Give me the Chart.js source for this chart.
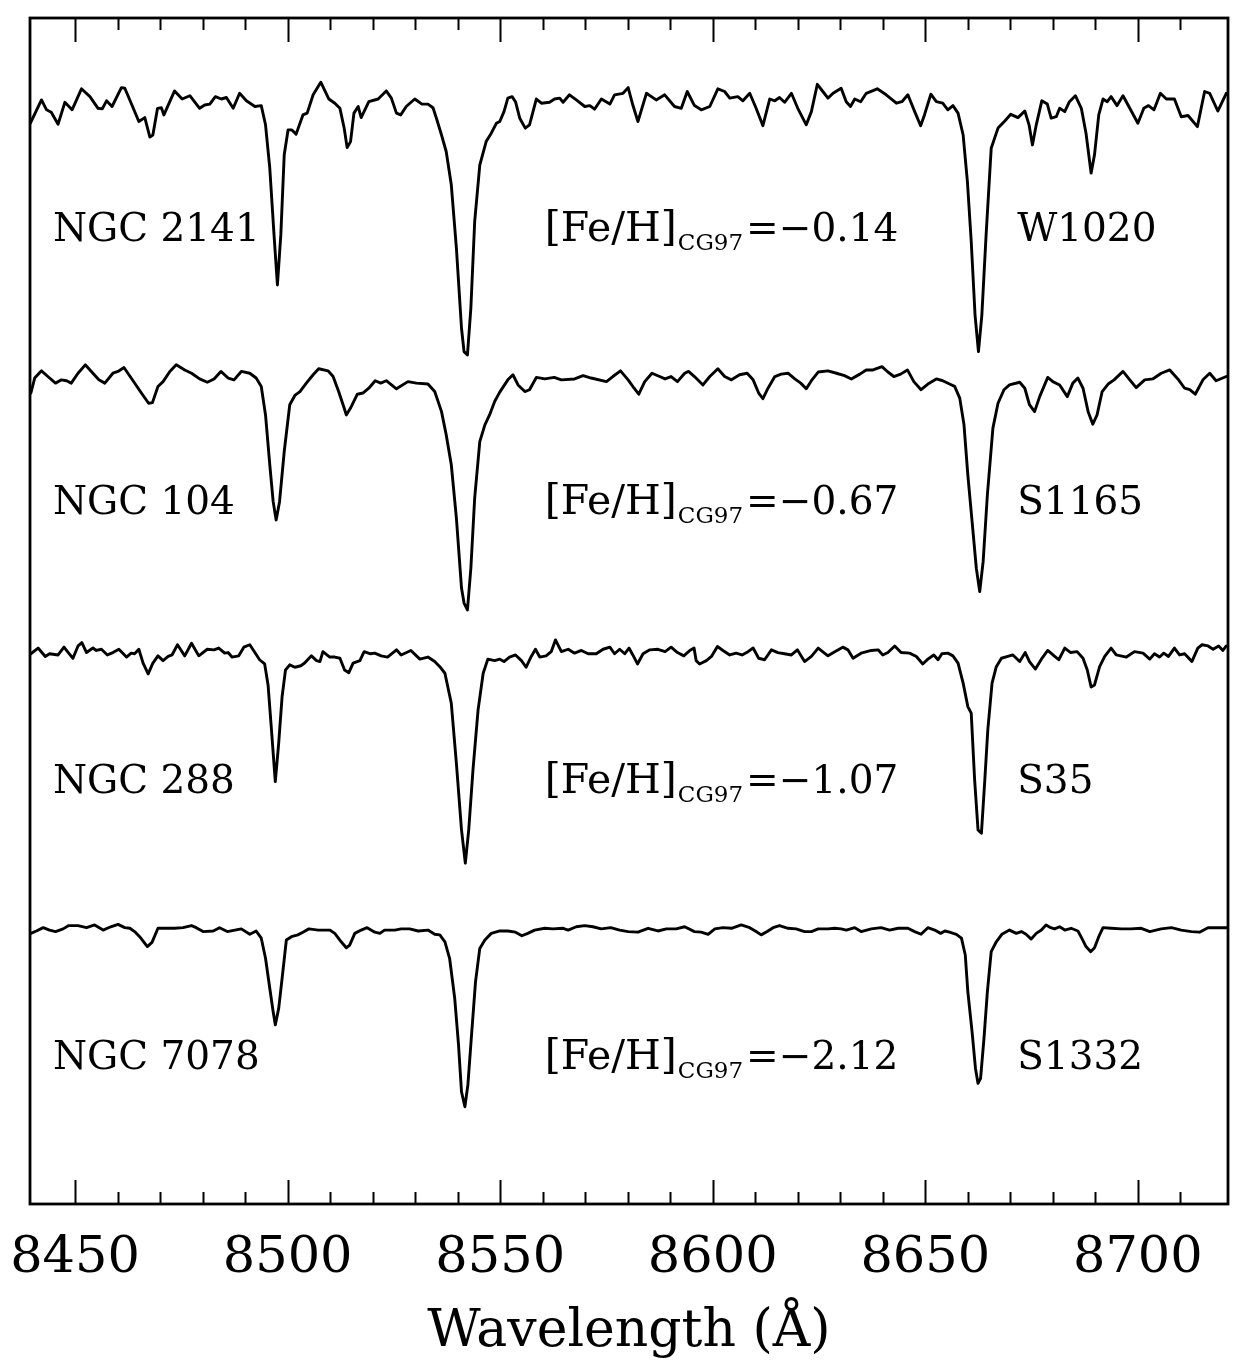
<!DOCTYPE html>
<html>
<head>
<meta charset="utf-8">
<title>CaT spectra</title>
<script src="https://cdn.jsdelivr.net/npm/chart.js@4.4.1/dist/chart.umd.min.js"></script>
<style>
  html, body { margin: 0; padding: 0; background: #fff; }
  #wrap { width: 1233px; height: 1360px; }
</style>
</head>
<body>
<div id="wrap"><canvas id="spectraChart" width="1233" height="1360"></canvas></div>
<script>
// Ejes
const xMin = 8439.4;
const xMax = 8721.2;
const tickValues = [8450, 8500, 8550, 8600, 8650, 8700];
const minorTickValues = [8450, 8460, 8470, 8480, 8490, 8500, 8510, 8520, 8530, 8540, 8550,
    8560, 8570, 8580, 8590, 8600, 8610, 8620, 8630, 8640, 8650, 8660, 8670, 8680, 8690, 8700, 8710];

// Etiquetas de cada espectro
const clusters = ['NGC 2141', 'NGC 104', 'NGC 288', 'NGC 7078'];
const stars = ['W1020', 'S1165', 'S35', 'S1332'];
const fehValues = ['\u22120.14', '\u22120.67', '\u22121.07', '\u22122.12'];
const offsets = [2.68, 1.737, 0.847, -0.08];
const labelLevels = [3.21, 2.30, 1.37, 0.45];

// NGC 2141 / W1020
const wl1 = [8439.5, 8442.1, 8443.3, 8444.4, 8446.0, 8447.6, 8449.3, 8451.5, 8453.5, 8455.4,
    8456.4, 8457.4, 8458.7, 8460.9, 8461.7, 8463.2, 8465.0, 8466.4, 8467.6, 8468.3,
    8469.4, 8470.3, 8470.9, 8473.4, 8475.2, 8477.0, 8479.3, 8480.5, 8481.7, 8483.0,
    8484.4, 8485.6, 8487.2, 8488.7, 8490.3, 8492.3, 8493.8, 8494.8, 8495.8, 8496.8,
    8497.6, 8498.4, 8499.2, 8500.1, 8501.0, 8502.0, 8503.6, 8504.6, 8506.0, 8507.8,
    8509.7, 8511.1, 8512.3, 8513.3, 8514.0, 8514.8, 8515.6, 8516.6, 8517.3, 8519.1,
    8521.3, 8523.2, 8524.4, 8525.6, 8526.6, 8527.9, 8529.9, 8531.6, 8533.0, 8534.2,
    8535.0, 8536.2, 8537.3, 8538.5, 8539.7, 8540.9, 8541.5, 8542.3, 8543.1, 8544.0,
    8545.2, 8546.7, 8547.9, 8549.1, 8549.9, 8550.9, 8551.8, 8552.8, 8553.6, 8554.6,
    8555.9, 8556.9, 8558.5, 8559.7, 8561.6, 8562.8, 8564.0, 8564.8, 8566.3, 8567.9,
    8569.9, 8571.1, 8572.2, 8573.8, 8575.8, 8576.9, 8578.9, 8580.1, 8581.2, 8582.4,
    8584.4, 8586.7, 8588.7, 8591.0, 8592.6, 8594.0, 8595.7, 8597.3, 8599.3, 8601.2,
    8602.8, 8604.0, 8605.9, 8607.1, 8608.7, 8610.2, 8611.8, 8613.4, 8614.6, 8615.7,
    8616.9, 8618.5, 8620.0, 8622.0, 8623.2, 8624.6, 8625.9, 8627.1, 8628.3, 8630.2,
    8631.4, 8632.4, 8633.4, 8634.8, 8636.1, 8638.7, 8640.8, 8643.2, 8644.5, 8645.9,
    8647.5, 8648.9, 8649.8, 8651.3, 8652.6, 8654.1, 8655.3, 8656.5, 8657.7, 8658.9,
    8659.9, 8660.8, 8661.7, 8662.5, 8663.3, 8664.3, 8665.5, 8667.1, 8668.7, 8670.1,
    8671.8, 8673.4, 8674.4, 8675.2, 8676.1, 8677.4, 8678.7, 8679.6, 8680.8, 8681.6,
    8682.8, 8683.9, 8685.3, 8686.7, 8687.8, 8689.0, 8689.8, 8690.8, 8691.8, 8692.8,
    8693.7, 8695.1, 8696.5, 8698.1, 8700.0, 8701.4, 8702.5, 8703.8, 8705.3, 8706.7,
    8708.6, 8710.2, 8711.8, 8714.0, 8715.7, 8716.9, 8718.8, 8720.8];
const flux1 = [0.923, 1.0, 0.967, 0.959, 0.919, 0.992, 0.967, 1.037, 1.011, 0.972,
    0.97, 0.997, 0.978, 1.041, 1.039, 0.989, 0.928, 0.941, 0.876, 0.883,
    0.972, 0.974, 0.95, 1.03, 1.003, 1.014, 0.972, 0.983, 0.986, 1.011,
    1.003, 1.008, 0.972, 1.022, 0.997, 0.978, 0.981, 0.917, 0.773, 0.55,
    0.383, 0.55, 0.817, 0.90, 0.90, 0.886, 0.95, 0.956, 1.017, 1.059,
    1.003, 0.989, 0.972, 0.906, 0.841, 0.861, 0.956, 0.978, 0.941, 0.994,
    1.003, 1.03, 1.006, 0.956, 0.95, 0.978, 1.003, 0.986, 0.986, 0.974,
    0.939, 0.883, 0.828, 0.717, 0.506, 0.239, 0.161, 0.15, 0.306, 0.594,
    0.783, 0.861, 0.889, 0.922, 0.928, 0.961, 1.006, 1.011, 0.994, 0.939,
    0.906, 0.917, 1.003, 0.989, 0.992, 1.003, 1.006, 0.992, 1.017, 1.0,
    0.978, 0.981, 0.969, 1.003, 0.986, 1.017, 1.022, 1.041, 0.983, 0.928,
    1.022, 1.0, 1.017, 0.978, 0.972, 1.028, 0.981, 0.967, 0.978, 1.037,
    1.028, 1.006, 1.011, 0.997, 1.022, 0.972, 0.914, 1.003, 0.997, 1.008,
    0.992, 1.022, 0.972, 0.917, 0.961, 1.052, 1.028, 1.006, 1.022, 1.039,
    0.994, 0.978, 1.003, 0.994, 1.022, 1.037, 1.017, 0.989, 0.994, 1.017,
    0.961, 0.914, 0.95, 1.019, 0.994, 0.989, 0.967, 0.981, 0.956, 0.883,
    0.728, 0.528, 0.283, 0.161, 0.283, 0.55, 0.839, 0.906, 0.93, 0.952,
    0.941, 0.963, 0.917, 0.85, 0.917, 0.997, 0.986, 0.939, 0.944, 0.972,
    0.961, 0.994, 1.014, 0.972, 0.889, 0.756, 0.817, 0.95, 1.003, 0.994,
    1.011, 0.981, 1.014, 0.972, 0.922, 0.972, 0.981, 0.967, 1.022, 1.003,
    1.003, 0.944, 0.948, 0.911, 1.028, 1.022, 0.963, 1.022];

// NGC 104 / S1165
const wl2 = [8439.6, 8440.5, 8442.1, 8443.6, 8445.4, 8446.8, 8448.0, 8449.1, 8450.7, 8452.4,
    8454.2, 8455.6, 8457.0, 8458.9, 8460.1, 8461.5, 8463.2, 8465.6, 8467.3, 8468.2,
    8469.5, 8470.7, 8472.3, 8473.8, 8475.8, 8477.4, 8479.3, 8481.1, 8482.7, 8484.3,
    8486.0, 8487.4, 8489.1, 8491.1, 8492.6, 8493.8, 8494.8, 8495.8, 8496.6, 8497.3,
    8498.1, 8499.2, 8500.5, 8501.7, 8502.9, 8504.4, 8506.0, 8507.3, 8509.5, 8510.7,
    8512.0, 8513.3, 8513.8, 8514.8, 8516.4, 8517.7, 8519.1, 8520.6, 8521.9, 8523.2,
    8525.6, 8528.3, 8530.3, 8533.0, 8534.6, 8536.2, 8537.3, 8538.5, 8539.7, 8540.9,
    8541.5, 8542.3, 8543.1, 8544.0, 8545.2, 8546.4, 8547.5, 8548.7, 8549.9, 8551.8,
    8553.0, 8554.2, 8555.8, 8556.9, 8558.5, 8560.5, 8562.7, 8564.4, 8567.5, 8569.5,
    8571.4, 8575.0, 8576.5, 8578.3, 8580.1, 8581.5, 8582.6, 8584.0, 8585.7, 8587.5,
    8588.8, 8590.2, 8591.7, 8593.4, 8594.3, 8595.7, 8597.7, 8599.3, 8601.2, 8602.8,
    8604.4, 8606.3, 8608.1, 8609.5, 8610.8, 8611.8, 8613.0, 8614.6, 8616.1, 8617.7,
    8619.3, 8620.7, 8622.0, 8623.2, 8624.8, 8627.1, 8629.1, 8631.0, 8632.6, 8634.6,
    8636.1, 8637.7, 8639.8, 8641.2, 8642.6, 8644.2, 8645.8, 8647.3, 8649.0, 8650.6,
    8652.6, 8654.1, 8655.7, 8656.9, 8658.1, 8659.1, 8660.0, 8661.0, 8662.0, 8662.8,
    8663.6, 8664.6, 8665.9, 8667.1, 8668.5, 8669.8, 8672.2, 8673.4, 8674.5, 8675.7,
    8676.9, 8678.8, 8680.0, 8681.6, 8683.4, 8684.7, 8685.9, 8687.1, 8688.3, 8689.4,
    8690.4, 8691.6, 8693.0, 8694.4, 8696.5, 8698.1, 8699.6, 8701.6, 8703.5, 8705.5,
    8707.5, 8709.4, 8711.0, 8712.2, 8713.5, 8715.3, 8716.9, 8718.4, 8720.8];
const flux2 = [0.966, 1.016, 1.04, 1.021, 0.999, 1.01, 1.007, 0.999, 1.032, 1.06,
    1.032, 1.01, 0.999, 1.032, 1.038, 1.051, 1.016, 0.966, 0.932, 0.934,
    0.988, 1.004, 1.038, 1.06, 1.043, 1.032, 1.013, 1.002, 1.013, 1.038,
    1.016, 1.01, 1.038, 1.032, 1.016, 0.988, 0.893, 0.727, 0.604, 0.543,
    0.604, 0.771, 0.927, 0.958, 0.971, 0.999, 1.027, 1.047, 1.04, 1.021,
    0.971, 0.916, 0.893, 0.916, 0.962, 0.966, 0.982, 1.007, 0.999, 1.007,
    0.98, 1.004, 0.999, 0.996, 0.971, 0.904, 0.827, 0.727, 0.549, 0.316,
    0.266, 0.243, 0.382, 0.616, 0.804, 0.86, 0.893, 0.938, 0.969, 1.01,
    1.027, 0.993, 0.971, 0.977, 1.018, 1.013, 1.018, 1.01, 1.013, 1.024,
    1.016, 1.004, 1.021, 1.04, 1.01, 0.982, 0.962, 1.004, 1.032, 1.021,
    1.013, 1.021, 1.004, 1.032, 1.038, 1.021, 0.993, 1.021, 1.047, 1.021,
    1.01, 1.027, 1.032, 1.01, 0.966, 0.947, 0.982, 1.021, 1.029, 1.032,
    1.013, 0.999, 0.98, 1.007, 1.036, 1.04, 1.032, 1.024, 1.013, 1.029,
    1.043, 1.043, 1.054, 1.036, 1.021, 1.029, 1.043, 1.004, 0.977, 0.996,
    1.013, 1.007, 0.996, 0.988, 0.949, 0.86, 0.693, 0.538, 0.382, 0.304,
    0.404, 0.627, 0.849, 0.932, 0.977, 0.993, 1.002, 0.982, 0.927, 0.904,
    0.954, 1.018, 1.004, 0.993, 0.954, 0.999, 1.016, 0.982, 0.904, 0.862,
    0.893, 0.971, 0.996, 1.01, 1.038, 1.01, 0.984, 1.01, 1.013, 1.032,
    1.043, 1.013, 0.982, 0.977, 0.962, 1.01, 1.032, 1.007, 1.021];

// NGC 288 / S35
const wl3 = [8439.6, 8441.3, 8443.0, 8444.0, 8446.0, 8447.4, 8448.4, 8449.5, 8450.7, 8451.6,
    8452.7, 8454.2, 8455.0, 8456.2, 8457.6, 8458.9, 8460.3, 8462.1, 8463.2, 8464.0,
    8465.0, 8466.0, 8467.2, 8468.3, 8469.5, 8470.7, 8471.9, 8472.8, 8474.1, 8475.8,
    8477.4, 8479.1, 8481.1, 8482.7, 8483.8, 8485.2, 8486.0, 8486.9, 8488.5, 8489.7,
    8491.1, 8492.3, 8493.4, 8494.6, 8495.4, 8496.2, 8497.1, 8497.9, 8498.7, 8499.5,
    8500.5, 8501.7, 8503.1, 8504.0, 8505.6, 8506.8, 8507.6, 8508.3, 8509.9, 8511.1,
    8512.3, 8513.4, 8514.4, 8515.4, 8517.0, 8518.0, 8519.5, 8520.5, 8522.0, 8523.5,
    8525.6, 8526.7, 8529.0, 8531.1, 8533.0, 8534.6, 8535.8, 8537.0, 8538.5, 8539.7,
    8540.9, 8541.8, 8542.6, 8543.6, 8544.8, 8546.0, 8547.1, 8548.7, 8549.9, 8550.9,
    8552.2, 8553.6, 8555.0, 8556.1, 8557.3, 8558.3, 8559.3, 8560.8, 8562.0, 8563.0,
    8564.4, 8566.0, 8567.5, 8569.1, 8570.7, 8572.6, 8574.2, 8575.8, 8576.9, 8578.1,
    8579.3, 8580.3, 8581.2, 8582.3, 8583.6, 8585.2, 8587.1, 8588.8, 8590.2, 8591.7,
    8593.2, 8594.6, 8595.6, 8596.1, 8596.9, 8598.5, 8599.7, 8601.1, 8602.4, 8604.0,
    8605.5, 8606.9, 8608.3, 8609.5, 8610.8, 8612.2, 8613.8, 8615.3, 8616.9, 8618.5,
    8619.9, 8621.6, 8623.2, 8624.8, 8627.1, 8628.7, 8630.6, 8631.8, 8633.0, 8634.9,
    8637.3, 8638.9, 8640.0, 8641.2, 8642.8, 8644.3, 8646.3, 8647.9, 8649.4, 8650.6,
    8652.0, 8653.0, 8653.9, 8655.3, 8656.5, 8657.7, 8658.9, 8660.0, 8660.8, 8661.6,
    8662.4, 8663.2, 8664.0, 8664.7, 8665.7, 8666.7, 8667.9, 8669.4, 8670.6, 8672.2,
    8673.5, 8674.5, 8675.9, 8677.3, 8678.8, 8680.3, 8681.4, 8682.8, 8684.2, 8685.7,
    8687.1, 8688.1, 8689.0, 8689.8, 8691.0, 8692.2, 8693.7, 8694.9, 8697.3, 8699.2,
    8701.2, 8702.8, 8703.9, 8705.1, 8706.1, 8707.2, 8708.6, 8709.8, 8711.0, 8712.7,
    8714.1, 8715.1, 8716.5, 8717.7, 8719.0, 8720.0, 8720.8];
const flux3 = [0.987, 1.006, 0.978, 0.987, 0.983, 1.009, 0.991, 0.972, 1.013, 1.024,
    0.991, 1.006, 0.998, 1.002, 0.983, 0.991, 1.002, 0.976, 0.989, 0.987,
    1.002, 0.956, 0.92, 0.956, 0.98, 0.964, 0.978, 0.983, 1.017, 0.98,
    1.022, 0.98, 1.002, 1.0, 1.006, 0.989, 0.991, 0.976, 0.98, 1.009,
    1.017, 0.991, 0.967, 0.953, 0.883, 0.733, 0.561, 0.689, 0.844, 0.933,
    0.95, 0.942, 0.947, 0.956, 0.98, 0.964, 0.961, 0.994, 0.976, 0.976,
    0.972, 0.933, 0.924, 0.956, 0.964, 0.994, 0.987, 0.989, 0.98, 0.976,
    1.0, 0.983, 0.998, 0.969, 0.976, 0.961, 0.944, 0.922, 0.822, 0.622,
    0.40, 0.289, 0.40, 0.60, 0.80, 0.922, 0.969, 0.964, 0.969, 0.961,
    0.976, 0.983, 0.964, 0.942, 0.978, 1.002, 0.976, 0.98, 0.994, 1.033,
    0.994, 1.002, 0.989, 0.998, 0.987, 0.987, 1.002, 1.009, 0.987, 1.002,
    0.987, 1.006, 0.983, 0.953, 0.987, 1.0, 1.002, 0.994, 1.009, 0.991,
    0.98, 0.998, 1.006, 0.964, 0.953, 0.964, 0.978, 1.011, 0.998, 0.983,
    0.989, 0.983, 0.994, 1.006, 0.972, 0.967, 1.0, 0.991, 0.987, 0.983,
    1.0, 0.961, 0.978, 1.006, 0.98, 0.994, 1.009, 1.0, 0.972, 0.989,
    0.998, 1.0, 0.983, 0.991, 1.013, 0.991, 0.989, 0.978, 0.953, 0.969,
    0.983, 0.967, 0.987, 0.989, 0.98, 0.956, 0.889, 0.811, 0.789, 0.567,
    0.40, 0.389, 0.567, 0.733, 0.889, 0.944, 0.972, 0.978, 0.983, 0.961,
    0.991, 0.961, 0.936, 0.969, 0.998, 0.98, 0.967, 1.006, 0.991, 0.994,
    0.972, 0.933, 0.876, 0.883, 0.944, 0.978, 1.006, 0.983, 0.976, 0.994,
    0.989, 0.969, 0.987, 0.976, 0.989, 0.978, 1.006, 0.983, 0.987, 0.961,
    1.006, 1.017, 1.013, 1.002, 1.013, 0.998, 1.013];

// NGC 7078 / S1332
const wl4 = [8439.6, 8440.9, 8442.5, 8444.0, 8445.4, 8447.2, 8448.5, 8450.7, 8452.7, 8454.6,
    8456.6, 8458.4, 8460.1, 8461.7, 8462.9, 8464.0, 8465.2, 8467.0, 8468.1, 8469.5,
    8471.9, 8473.4, 8475.4, 8477.4, 8478.5, 8480.1, 8482.5, 8484.0, 8485.8, 8487.6,
    8489.1, 8491.1, 8492.6, 8493.8, 8494.8, 8495.8, 8496.6, 8497.1, 8497.9, 8498.7,
    8499.7, 8500.9, 8502.4, 8503.6, 8505.0, 8507.2, 8509.9, 8511.1, 8512.6, 8513.8,
    8514.6, 8515.8, 8517.3, 8518.7, 8520.5, 8521.7, 8522.8, 8525.2, 8526.7, 8528.7,
    8530.7, 8533.0, 8534.6, 8535.8, 8537.0, 8538.1, 8539.3, 8540.2, 8540.9, 8541.7,
    8542.4, 8543.2, 8544.2, 8545.2, 8546.4, 8547.9, 8549.9, 8551.8, 8553.6, 8555.1,
    8556.5, 8558.1, 8560.5, 8562.4, 8564.8, 8566.0, 8567.9, 8569.9, 8571.8, 8573.8,
    8576.0, 8578.1, 8580.1, 8582.4, 8584.8, 8587.1, 8589.1, 8591.4, 8593.4, 8595.7,
    8597.3, 8598.9, 8600.5, 8602.4, 8604.4, 8606.7, 8608.7, 8610.2, 8611.4, 8612.8,
    8614.2, 8615.7, 8617.7, 8619.6, 8621.6, 8623.2, 8624.8, 8627.1, 8628.7, 8630.2,
    8631.4, 8633.4, 8634.9, 8637.3, 8639.6, 8641.6, 8643.6, 8645.9, 8647.5, 8649.0,
    8650.6, 8652.2, 8653.6, 8654.6, 8655.7, 8657.3, 8658.5, 8659.4, 8660.0, 8661.0,
    8661.8, 8662.4, 8663.0, 8663.8, 8664.6, 8665.5, 8666.7, 8668.0, 8669.8, 8671.4,
    8672.6, 8673.7, 8674.9, 8676.1, 8677.3, 8678.4, 8679.5, 8680.4, 8681.6, 8682.8,
    8684.3, 8685.9, 8686.8, 8687.8, 8688.9, 8689.8, 8690.8, 8691.8, 8693.7, 8696.1,
    8698.4, 8700.8, 8702.8, 8705.5, 8707.9, 8710.2, 8712.6, 8714.5, 8716.5, 8718.8, 8720.8];
const flux4 = [0.982, 0.99, 1.001, 0.993, 0.988, 0.997, 1.008, 1.008, 1.001, 1.01,
    0.993, 1.004, 1.012, 1.001, 0.999, 0.988, 0.971, 0.938, 0.952, 0.999,
    0.999, 0.999, 1.001, 1.008, 1.001, 0.988, 0.99, 1.001, 0.988, 0.993,
    0.997, 0.979, 0.99, 0.966, 0.899, 0.799, 0.721, 0.677, 0.732, 0.832,
    0.96, 0.971, 0.977, 0.986, 0.997, 0.993, 0.993, 0.982, 0.954, 0.934,
    0.943, 0.982, 0.993, 1.001, 0.986, 0.982, 0.993, 0.993, 0.997, 0.997,
    0.99, 0.993, 0.979, 0.977, 0.954, 0.899, 0.766, 0.61, 0.454, 0.404,
    0.477, 0.632, 0.821, 0.932, 0.96, 0.982, 0.99, 0.99, 0.986, 0.974,
    0.982, 0.993, 0.999, 0.997, 0.999, 0.993, 1.004, 1.008, 1.004, 0.997,
    1.001, 0.993, 0.988, 0.986, 0.999, 0.99, 0.997, 0.997, 1.004, 0.988,
    0.986, 0.979, 0.997, 1.001, 0.999, 1.01, 1.001, 0.988, 0.977, 0.988,
    1.001, 1.008, 0.999, 0.997, 0.988, 0.988, 0.997, 0.997, 0.999, 0.997,
    0.993, 1.001, 0.988, 0.997, 1.001, 0.993, 0.999, 0.999, 0.988, 0.979,
    1.001, 0.993, 0.982, 0.99, 0.986, 0.979, 0.966, 0.91, 0.788, 0.654,
    0.532, 0.482, 0.499, 0.632, 0.788, 0.921, 0.954, 0.979, 0.993, 0.982,
    0.988, 0.979, 0.963, 0.982, 0.993, 1.01, 1.001, 0.997, 1.004, 0.993,
    0.999, 0.99, 0.966, 0.938, 0.921, 0.934, 0.971, 1.001, 0.999, 0.997,
    0.997, 0.999, 0.988, 0.997, 1.001, 0.993, 0.988, 0.986, 1.001, 1.001, 1.001];

const wavelengths = [wl1, wl2, wl3, wl4];
const fluxes = [flux1, flux2, flux3, flux4];

const fuente = '"DejaVu Serif", "Liberation Serif", serif';

// Construir los datasets con el desplazamiento vertical de cada espectro
function crearDatasets() {
    return fluxes.map((f, i) => {
        const wl = wavelengths[i];
        const n = Math.min(wl.length, f.length);
        const puntos = [];
        for (let k = 0; k < n; k++) {
            puntos.push({ x: wl[k], y: f[k] + offsets[i] });
        }
        return {
            label: clusters[i],
            data: puntos,
            borderColor: '#000',
            borderWidth: 2.9,
            borderJoinStyle: 'round',
            borderCapStyle: 'round',
            pointRadius: 0,
            tension: 0,
            fill: false
        };
    });
}

// Marco y marcas de graduacion arriba y abajo
const marcoPlugin = {
    id: 'marco',
    afterDraw(chart) {
        const { ctx, chartArea: a, scales } = chart;
        const x = scales.x;
        ctx.save();
        ctx.strokeStyle = '#000';
        ctx.lineWidth = 2;
        ctx.beginPath();
        minorTickValues.forEach(v => {
            const px = Math.round(x.getPixelForValue(v)) + 0.5;
            const len = tickValues.includes(v) ? 24 : 12;
            ctx.moveTo(px, a.top);
            ctx.lineTo(px, a.top + len);
            ctx.moveTo(px, a.bottom);
            ctx.lineTo(px, a.bottom - len);
        });
        ctx.stroke();
        ctx.lineWidth = 2.8;
        ctx.strokeRect(a.left, a.top, a.right - a.left, a.bottom - a.top);
        ctx.restore();
    }
};

// Etiquetas de cumulo, metalicidad y estrella
const etiquetasPlugin = {
    id: 'etiquetas',
    afterDatasetsDraw(chart) {
        const { ctx, scales } = chart;
        const x = scales.x, y = scales.y;
        ctx.save();
        ctx.fillStyle = '#000';
        ctx.textBaseline = 'alphabetic';
        ctx.textAlign = 'left';
        const grande = '39px ' + fuente;
        const fe = '41px ' + fuente;
        const chica = '23px ' + fuente;
        clusters.forEach((nombre, i) => {
            const base = y.getPixelForValue(labelLevels[i]);
            ctx.font = grande;
            ctx.fillText(nombre, x.getPixelForValue(8444.8), base);
            ctx.fillText(stars[i], x.getPixelForValue(8671.6), base);

            let px = x.getPixelForValue(8560.5);
            ctx.font = fe;
            ctx.fillText('[Fe/H]', px, base);
            px += ctx.measureText('[Fe/H]').width + 1;
            ctx.font = chica;
            ctx.fillText('CG97', px, base + 9);
            px += ctx.measureText('CG97').width + 3;
            ctx.font = grande;
            ctx.fillText('=' + fehValues[i], px, base);
        });
        ctx.restore();
    }
};

function inicializarGrafico() {
    const ctx = document.getElementById('spectraChart');
    new Chart(ctx, {
        type: 'line',
        data: { datasets: crearDatasets() },
        options: {
            responsive: false,
            animation: false,
            layout: { padding: { left: 30, right: 5, top: 18, bottom: 0 } },
            plugins: {
                legend: { display: false },
                tooltip: { enabled: false }
            },
            scales: {
                x: {
                    type: 'linear',
                    min: xMin,
                    max: xMax,
                    grid: { display: false, drawTicks: false },
                    border: { display: false },
                    afterBuildTicks: axis => {
                        axis.ticks = tickValues.map(v => ({ value: v }));
                    },
                    afterFit: axis => {
                        // sin relleno lateral por las etiquetas y altura fija del eje
                        axis.paddingLeft = 0;
                        axis.paddingRight = 0;
                        axis.height = 156;
                    },
                    ticks: {
                        color: '#000',
                        font: { family: fuente, size: 51 },
                        padding: 24,
                        maxRotation: 0,
                        autoSkip: false,
                        callback: v => String(v)
                    },
                    title: {
                        display: true,
                        text: 'Wavelength (\u00c5)',
                        color: '#000',
                        font: { family: fuente, size: 52 },
                        padding: { top: 0, bottom: -4 }
                    }
                },
                y: {
                    display: false,
                    min: 0,
                    max: 3.953
                }
            }
        },
        plugins: [marcoPlugin, etiquetasPlugin]
    });
}

inicializarGrafico();
</script>
</body>
</html>
